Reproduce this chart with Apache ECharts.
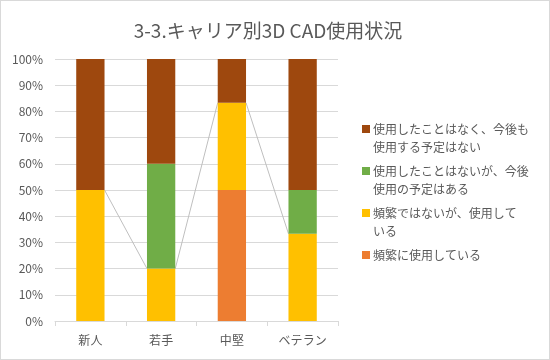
<!DOCTYPE html>
<html><head><meta charset="utf-8">
<script src="https://cdn.jsdelivr.net/npm/echarts@6/dist/echarts.min.js"></script>
<style>
html,body{margin:0;padding:0;background:#fff;}
#c{position:absolute;left:0;top:0;width:548px;height:358px;border:1px solid #d9d9d9;}
</style></head>
<body><div id="c"></div>
<script>
const categories = ['新人','若手','中堅','ベテラン'];
const seriesNames = ['頻繁に使用している','頻繁ではないが、使用している','使用したことはないが、今後使用の予定はある','使用したことはなく、今後も使用する予定はない'];
const legendLabels = ['頻繁に使用している\n ','頻繁ではないが、使用して\nいる','使用したことはないが、今後\n使用の予定はある','使用したことはなく、今後も\n使用する予定はない'];
const frequent = [0, 0, 50, 0];
const occasional = [50, 20, 33.3, 33.3];
const planned = [0, 40, 0, 16.7];
const never = [50, 40, 16.7, 50];
const colors = ['#ED7D31','#FFC000','#70AD47','#9E480E'];
const yTicks = [0,10,20,30,40,50,60,70,80,90,100];

const values = [frequent, occasional, planned, never];
const yellowTop = occasional.map((v,i)=>v+frequent[i]);
const font = '"Noto Sans CJK JP", sans-serif';
const chart = echarts.init(document.getElementById('c'));
const barSeries = values.map((d,k)=>({
  name: seriesNames[k], type:'bar', stack:'s', data:d, barWidth:'40%',
  itemStyle:{color:colors[k]}, z:2
}));
const legendMap = {};
seriesNames.forEach((n,i)=>legendMap[n]=legendLabels[i]);
const iconPath = 'path://M0,5h8v8h-8z M0,0h0.01v0.01h-0.01z M7.99,35.99h0.01v0.01h-0.01z';
chart.setOption({
  animation:false,
  textStyle:{fontFamily:font},
  title:{text:'3-3.キャリア別3D CAD使用状況', left:262, top:15, textAlign:'center',
    textStyle:{fontFamily:font, fontSize:19, fontWeight:'normal', color:'#595959'}},
  grid:{left:54, right:211, top:58, bottom:38, containLabel:false},
  legend:{orient:'vertical', left:361, top:119, padding:0, itemWidth:8, itemHeight:36, itemGap:6,
    data:seriesNames.slice().reverse().map(n=>({name:n, icon:iconPath})),
    formatter:n=>legendMap[n],
    textStyle:{fontFamily:font, fontSize:12, color:'#595959', lineHeight:18, padding:[0,0,0,-2]}},
  xAxis:{type:'category', data:categories,
    axisLine:{lineStyle:{color:'#d9d9d9'}},
    axisTick:{show:true, alignWithLabel:false, length:5, lineStyle:{color:'#d9d9d9'}},
    axisLabel:{color:'#595959', fontSize:12, margin:13, fontFamily:font}},
  yAxis:{type:'value', min:0, max:100, interval:10,
    axisLine:{show:false}, axisTick:{show:false},
    splitLine:{lineStyle:{color:'#d9d9d9'}},
    axisLabel:{color:'#595959', fontSize:12, formatter:v=>v+'%', margin:12, fontFamily:font}},
  series: barSeries.concat([{
    type:'custom', name:'_lines', silent:true, z:1,
    data: categories.slice(0,-1).map((c,i)=>[i, yellowTop[i], yellowTop[i+1]]),
    renderItem:(params, api)=>{
      const i = api.value(0);
      const hw = api.size([1,0])[0]*0.4/2;
      const p1 = api.coord([i, api.value(1)]);
      const p2 = api.coord([i+1, api.value(2)]);
      return {type:'line', shape:{x1:p1[0]+hw, y1:p1[1], x2:p2[0]-hw, y2:p2[1]},
        style:{stroke:'#bfbfbf', lineWidth:1}};
    }
  }])
});
</script></body></html>
